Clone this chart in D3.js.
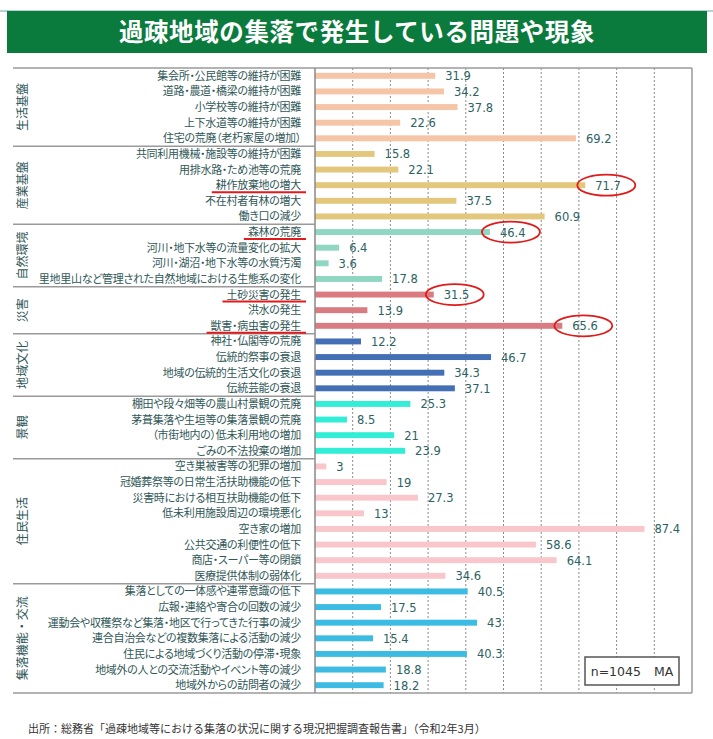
<!DOCTYPE html>
<html>
<head>
<meta charset="utf-8">
<script src="https://cdn.jsdelivr.net/npm/d3@7"></script>
<style>
  body { margin: 0; background: #fff; }
  svg { display: block; }
  .jp { font-family: "Noto Sans CJK JP", sans-serif; }
</style>
</head>
<body>
<svg id="chart" width="713" height="739"></svg>
<script>
// ---- data ----
const groupNames = ["生活基盤", "産業基盤", "自然環境", "災害", "地域文化", "景観", "住民生活", "集落機能・交流"];
const groupSizes = [5, 5, 4, 3, 4, 4, 8, 7];

const items = [
  "集会所・公民館等の維持が困難", "道路・農道・橋梁の維持が困難", "小学校等の維持が困難",
  "上下水道等の維持が困難", "住宅の荒廃（老朽家屋の増加）",
  "共同利用機械・施設等の維持が困難", "用排水路・ため池等の荒廃", "耕作放棄地の増大",
  "不在村者有林の増大", "働き口の減少",
  "森林の荒廃", "河川・地下水等の流量変化の拡大", "河川・湖沼・地下水等の水質汚濁",
  "里地里山など管理された自然地域における生態系の変化",
  "土砂災害の発生", "洪水の発生", "獣害・病虫害の発生",
  "神社・仏閣等の荒廃", "伝統的祭事の衰退", "地域の伝統的生活文化の衰退", "伝統芸能の衰退",
  "棚田や段々畑等の農山村景観の荒廃", "茅葺集落や生垣等の集落景観の荒廃",
  "（市街地内の）低未利用地の増加", "ごみの不法投棄の増加",
  "空き巣被害等の犯罪の増加", "冠婚葬祭等の日常生活扶助機能の低下", "災害時における相互扶助機能の低下",
  "低未利用施設周辺の環境悪化", "空き家の増加", "公共交通の利便性の低下",
  "商店・スーパー等の閉鎖", "医療提供体制の弱体化",
  "集落としての一体感や連帯意識の低下", "広報・連絡や寄合の回数の減少",
  "運動会や収穫祭など集落・地区で行ってきた行事の減少", "連合自治会などの複数集落による活動の減少",
  "住民による地域づくり活動の停滞・現象", "地域外の人との交流活動やイベント等の減少",
  "地域外からの訪問者の減少"
];

const values = [
  31.9, 34.2, 37.8, 22.6, 69.2,
  15.8, 22.1, 71.7, 37.5, 60.9,
  46.4, 6.4, 3.6, 17.8,
  31.5, 13.9, 65.6,
  12.2, 46.7, 34.3, 37.1,
  25.3, 8.5, 21, 23.9,
  3, 19, 27.3, 13, 87.4, 58.6, 64.1, 34.6,
  40.5, 17.5, 43, 15.4, 40.3, 18.8, 18.2
];

const highlighted = ["耕作放棄地の増大", "森林の荒廃", "土砂災害の発生", "獣害・病虫害の発生"];
const xTicks = [10, 20, 30, 40, 50, 60, 70, 80, 90];

const titleText = "過疎地域の集落で発生している問題や現象";
const noteText = "n=1045　MA";
const sourceText = "出所：総務省「過疎地域等における集落の状況に関する現況把握調査報告書」（令和2年3月）";

// ---- styling ----
const groupColors = ["#f6c4a6", "#e3c77c", "#8fd7c1", "#d97b81", "#4370b5", "#33eed6", "#f9c7cb", "#3cbce2"];
const labelColor = "#2f5757";
const valueColor = "#2b6262";
const frameColor = "#9a9a9a";

const svg = d3.select("#chart");

// group index for each item
const groupOf = [];
groupSizes.forEach((n, g) => { for (let i = 0; i < n; i++) groupOf.push(g); });

const plotLeft = 315, plotRight = 692, plotTop = 68, plotBottom = 693, frameLeft = 13;
const labelRight = 301;

const x = d3.scaleLinear().domain([0, 100]).range([plotLeft, plotRight]);
const y = d3.scaleBand().domain(d3.range(items.length)).range([plotTop, plotBottom])
  .paddingInner(0.62).paddingOuter(0.31);
const step = y.step();
const rowCenter = i => y(i) + y.bandwidth() / 2;
const color = d3.scaleOrdinal().domain(d3.range(groupNames.length)).range(groupColors);

// ---- title banner ----
svg.append("line").attr("x1", 0).attr("x2", 713).attr("y1", 11).attr("y2", 11)
  .attr("stroke", "#6aa6aa").attr("stroke-width", 1);
svg.append("rect").attr("x", 7).attr("y", 11).attr("width", 700).attr("height", 42)
  .attr("fill", "#0b7a3d");
svg.append("text").attr("class", "jp")
  .attr("x", 357).attr("y", 41).attr("text-anchor", "middle")
  .attr("fill", "#fff").attr("font-size", 24.5).attr("font-weight", "bold")
  .attr("letter-spacing", 0.6)
  .text(titleText);

// ---- grid ----
svg.append("g").selectAll("line").data(xTicks).join("line")
  .attr("x1", d => x(d)).attr("x2", d => x(d))
  .attr("y1", plotTop).attr("y2", plotBottom)
  .attr("stroke", "#8a8a8a").attr("stroke-width", 1)
  .attr("stroke-dasharray", "2,2");

// ---- bars ----
svg.append("g").selectAll("rect").data(values).join("rect")
  .attr("x", x(0))
  .attr("y", (d, i) => y(i))
  .attr("width", d => x(d) - x(0))
  .attr("height", y.bandwidth())
  .attr("fill", (d, i) => color(groupOf[i]));

// ---- value labels ----
svg.append("g").selectAll("text").data(values).join("text")
  .attr("x", d => x(d) + 10)
  .attr("y", (d, i) => rowCenter(i) + 4.5)
  .attr("font-family", "DejaVu Sans, Verdana, sans-serif")
  .attr("font-size", 11.5)
  .attr("fill", valueColor)
  .text(d => d);

// ---- frame ----
const frame = svg.append("g").attr("stroke", frameColor).attr("stroke-width", 1.5).attr("fill", "none");
frame.append("line").attr("x1", frameLeft).attr("x2", plotRight).attr("y1", plotTop).attr("y2", plotTop);
frame.append("line").attr("x1", frameLeft).attr("x2", plotRight).attr("y1", plotBottom).attr("y2", plotBottom);
frame.append("line").attr("x1", plotRight).attr("x2", plotRight).attr("y1", plotTop).attr("y2", plotBottom);
frame.append("line").attr("x1", plotLeft).attr("x2", plotLeft).attr("y1", plotTop).attr("y2", plotBottom)
  .attr("stroke", "#888");

// group separators and names
let start = 0;
groupSizes.forEach((n, g) => {
  const y0 = plotTop + start * step, y1 = plotTop + (start + n) * step;
  if (g > 0) {
    svg.append("line").attr("x1", frameLeft).attr("x2", plotLeft).attr("y1", y0).attr("y2", y0)
      .attr("stroke", frameColor).attr("stroke-width", 1.5);
  }
  svg.append("text").attr("class", "jp")
    .attr("transform", `translate(27,${(y0 + y1) / 2}) rotate(-90)`)
    .attr("text-anchor", "middle")
    .attr("font-size", 12)
    .attr("fill", labelColor)
    .text(groupNames[g]);
  start += n;
});

// ---- item labels ----
const labels = svg.append("g").selectAll("text").data(items).join("text")
  .attr("class", "jp")
  .attr("x", labelRight)
  .attr("y", (d, i) => rowCenter(i) + 4)
  .attr("text-anchor", "end")
  .attr("font-size", 11)
  .attr("letter-spacing", -0.3)
  .attr("fill", labelColor)
  .style("font-feature-settings", "'palt'")
  .text(d => d);

// ---- red highlights ----
labels.filter(d => highlighted.includes(d)).each(function (d) {
  const i = items.indexOf(d);
  const w = this.getComputedTextLength();
  svg.append("line")
    .attr("x1", labelRight - w - 4).attr("x2", labelRight + 5)
    .attr("y1", rowCenter(i) + 7).attr("y2", rowCenter(i) + 7)
    .attr("stroke", "#e01b1b").attr("stroke-width", 2);
  svg.append("ellipse")
    .attr("cx", x(values[i]) + 21).attr("cy", rowCenter(i))
    .attr("rx", 29).attr("ry", 10.5)
    .attr("fill", "none").attr("stroke", "#e01b1b").attr("stroke-width", 1.8);
});

// ---- n box ----
svg.append("rect").attr("x", 585).attr("y", 657).attr("width", 94).attr("height", 28)
  .attr("fill", "#fff").attr("stroke", "#555").attr("stroke-width", 1.5);
svg.append("text").attr("x", 632).attr("y", 676).attr("text-anchor", "middle")
  .attr("font-family", "DejaVu Sans, Verdana, sans-serif")
  .attr("font-size", 12.5).attr("fill", "#333")
  .attr("xml:space", "preserve")
  .text(noteText);

// ---- source ----
svg.append("text").attr("class", "jp")
  .attr("x", 28).attr("y", 733)
  .attr("font-size", 11).attr("fill", "#333")
  .text(sourceText);
</script>
</body>
</html>
